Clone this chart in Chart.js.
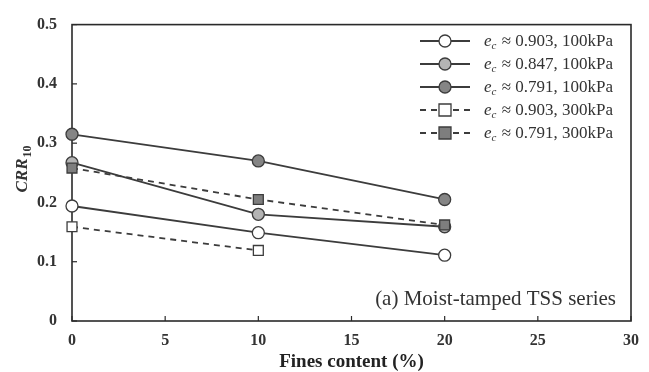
<!DOCTYPE html>
<html><head><meta charset="utf-8">
<script src="https://cdn.jsdelivr.net/npm/chart.js@4/dist/chart.umd.min.js"></script>
<style>html,body{margin:0;padding:0;background:#fff}#wrap{width:649px;height:372px}</style>
</head><body><div id="wrap"><canvas id="c" width="649" height="372"></canvas></div>
<script>
const finesContent = [0, 10, 20];
const seriesLabels = ["0.903, 100kPa", "0.847, 100kPa", "0.791, 100kPa", "0.903, 300kPa", "0.791, 300kPa"];
const crr_0903_100 = [0.194, 0.149, 0.111];
const crr_0847_100 = [0.267, 0.180, 0.159];
const crr_0791_100 = [0.315, 0.270, 0.205];
const crr_0903_300 = [0.159, 0.119];
const crr_0791_300 = [0.258, 0.205, 0.162];
const xTicks = [0, 5, 10, 15, 20, 25, 30];
const yTicks = [0, 0.1, 0.2, 0.3, 0.4, 0.5];
const annotationText = "(a) Moist-tamped TSS series";
const xTitle = "Fines content (%)";

const SERIF = '"Liberation Serif","Times New Roman",serif';
const LINE = '#3c3c3c';
function pts(vals){ return vals.map((v,i)=>({x:finesContent[i], y:v})); }
const styles = [
  {fill:'#ffffff', shape:'circle', dash:[], order:1},
  {fill:'#b4b4b4', shape:'circle', dash:[], order:1},
  {fill:'#858585', shape:'circle', dash:[], order:1},
  {fill:'#ffffff', shape:'rect', dash:[6,5], order:0},
  {fill:'#7e7e7e', shape:'rect', dash:[6,5], order:0},
];
const allVals = [crr_0903_100, crr_0847_100, crr_0791_100, crr_0903_300, crr_0791_300];
const datasets = allVals.map((vals,i)=>({
  label: seriesLabels[i],
  data: pts(vals),
  order: styles[i].order,
  borderColor: LINE,
  borderWidth: 1.8,
  borderDash: styles[i].dash,
  backgroundColor: styles[i].fill,
  pointStyle: styles[i].shape,
  pointRadius: styles[i].shape==='circle'?6:7,
  pointBorderColor: LINE,
  pointBackgroundColor: styles[i].fill,
  pointBorderWidth: 1.3,
  tension: 0,
  clip: false
}));

const decor = {
  id:'decor',
  beforeDatasetsDraw(chart){
    const {ctx, chartArea:a, scales:{x,y}} = chart;
    ctx.save();
    ctx.strokeStyle = '#2a2a2a';
    ctx.lineWidth = 1.6;
    ctx.strokeRect(a.left, a.top, a.right-a.left, a.bottom-a.top);
    ctx.lineWidth = 1.2;
    xTicks.forEach(t=>{ const px = x.getPixelForValue(t); ctx.beginPath(); ctx.moveTo(px,a.bottom); ctx.lineTo(px,a.bottom-5); ctx.stroke(); });
    yTicks.forEach(t=>{ const py = y.getPixelForValue(t); ctx.beginPath(); ctx.moveTo(a.left,py); ctx.lineTo(a.left+5,py); ctx.stroke(); });
    ctx.restore();
  },
  afterDraw(chart){
    const {ctx, chartArea:a} = chart;
    ctx.save();
    // y title
    ctx.translate(21, 169);
    ctx.rotate(-Math.PI/2);
    ctx.fillStyle = '#333';
    ctx.textBaseline = 'alphabetic';
    ctx.font = 'italic bold 17px ' + SERIF;
    const w1 = ctx.measureText('CRR').width;
    ctx.font = 'bold 12px ' + SERIF;
    const w2 = ctx.measureText('10').width;
    const total = w1 + w2 + 1;
    ctx.font = 'italic bold 17px ' + SERIF;
    ctx.fillText('CRR', -total/2, 6);
    ctx.font = 'bold 12px ' + SERIF;
    ctx.fillText('10', -total/2 + w1 + 1, 10);
    ctx.restore();

    // legend
    ctx.save();
    const rows = [41, 64, 87, 110, 133];
    datasets.forEach((d,i)=>{
      const ry = rows[i];
      ctx.strokeStyle = LINE; ctx.lineWidth = 1.8;
      ctx.setLineDash(d.borderDash);
      ctx.beginPath(); ctx.moveTo(420, ry); ctx.lineTo(470, ry); ctx.stroke();
      ctx.setLineDash([]);
      ctx.fillStyle = d.pointBackgroundColor; ctx.lineWidth = 1.3;
      ctx.beginPath();
      if (d.pointStyle==='circle') ctx.arc(445, ry, 6, 0, Math.PI*2);
      else ctx.rect(445-6, ry-6, 12, 12);
      ctx.fill(); ctx.stroke();
      ctx.fillStyle = '#333';
      ctx.textBaseline = 'alphabetic';
      let tx = 484;
      ctx.font = 'italic 17px ' + SERIF;
      ctx.fillText('e', tx, ry+5); tx += ctx.measureText('e').width;
      ctx.font = 'italic 11px ' + SERIF;
      ctx.fillText('c', tx, ry+8); tx += ctx.measureText('c').width + 1;
      ctx.font = '17px ' + SERIF;
      ctx.fillText(' \u2248 ' + seriesLabels[i], tx, ry+5);
    });
    // annotation
    ctx.font = '21px ' + SERIF;
    ctx.textAlign = 'right';
    ctx.fillStyle = '#333';
    ctx.fillText(annotationText, a.right - 15, a.bottom - 16);
    ctx.restore();
  }
};

new Chart(document.getElementById('c'), {
  type: 'line',
  data: { datasets },
  options: {
    responsive: false,
    animation: false,
    devicePixelRatio: 1,
    layout: { padding: { top: 19, right: 16, left: 0, bottom: 0 } },
    plugins: { legend: { display: false }, tooltip: { enabled: false } },
    scales: {
      x: {
        type: 'linear', min: 0, max: 30,
        afterBuildTicks(s){ s.ticks = xTicks.map(v=>({value:v})); },
        afterFit(s){ s.height = 51; },
        grid: { display: false, drawTicks: false },
        border: { display: false },
        ticks: { padding: 10, color: '#333', font: { family: SERIF, size: 16, weight: 'bold' }, maxRotation: 0 },
        title: { display: true, text: xTitle, color: '#222', padding: {top: 1, bottom: 0}, font: { family: SERIF, size: 19, weight: 'bold', lineHeight: 1.0 } }
      },
      y: {
        type: 'linear', min: 0, max: 0.5,
        afterBuildTicks(s){ s.ticks = yTicks.map(v=>({value:v})); },
        afterFit(s){ s.width = 72; },
        grid: { display: false, drawTicks: false },
        border: { display: false },
        ticks: { padding: 15, color: '#333', font: { family: SERIF, size: 16, weight: 'bold' },
          callback: v => v === 0 ? '0' : v.toFixed(1) }
      }
    }
  },
  plugins: [decor]
});
</script>
</body></html>
